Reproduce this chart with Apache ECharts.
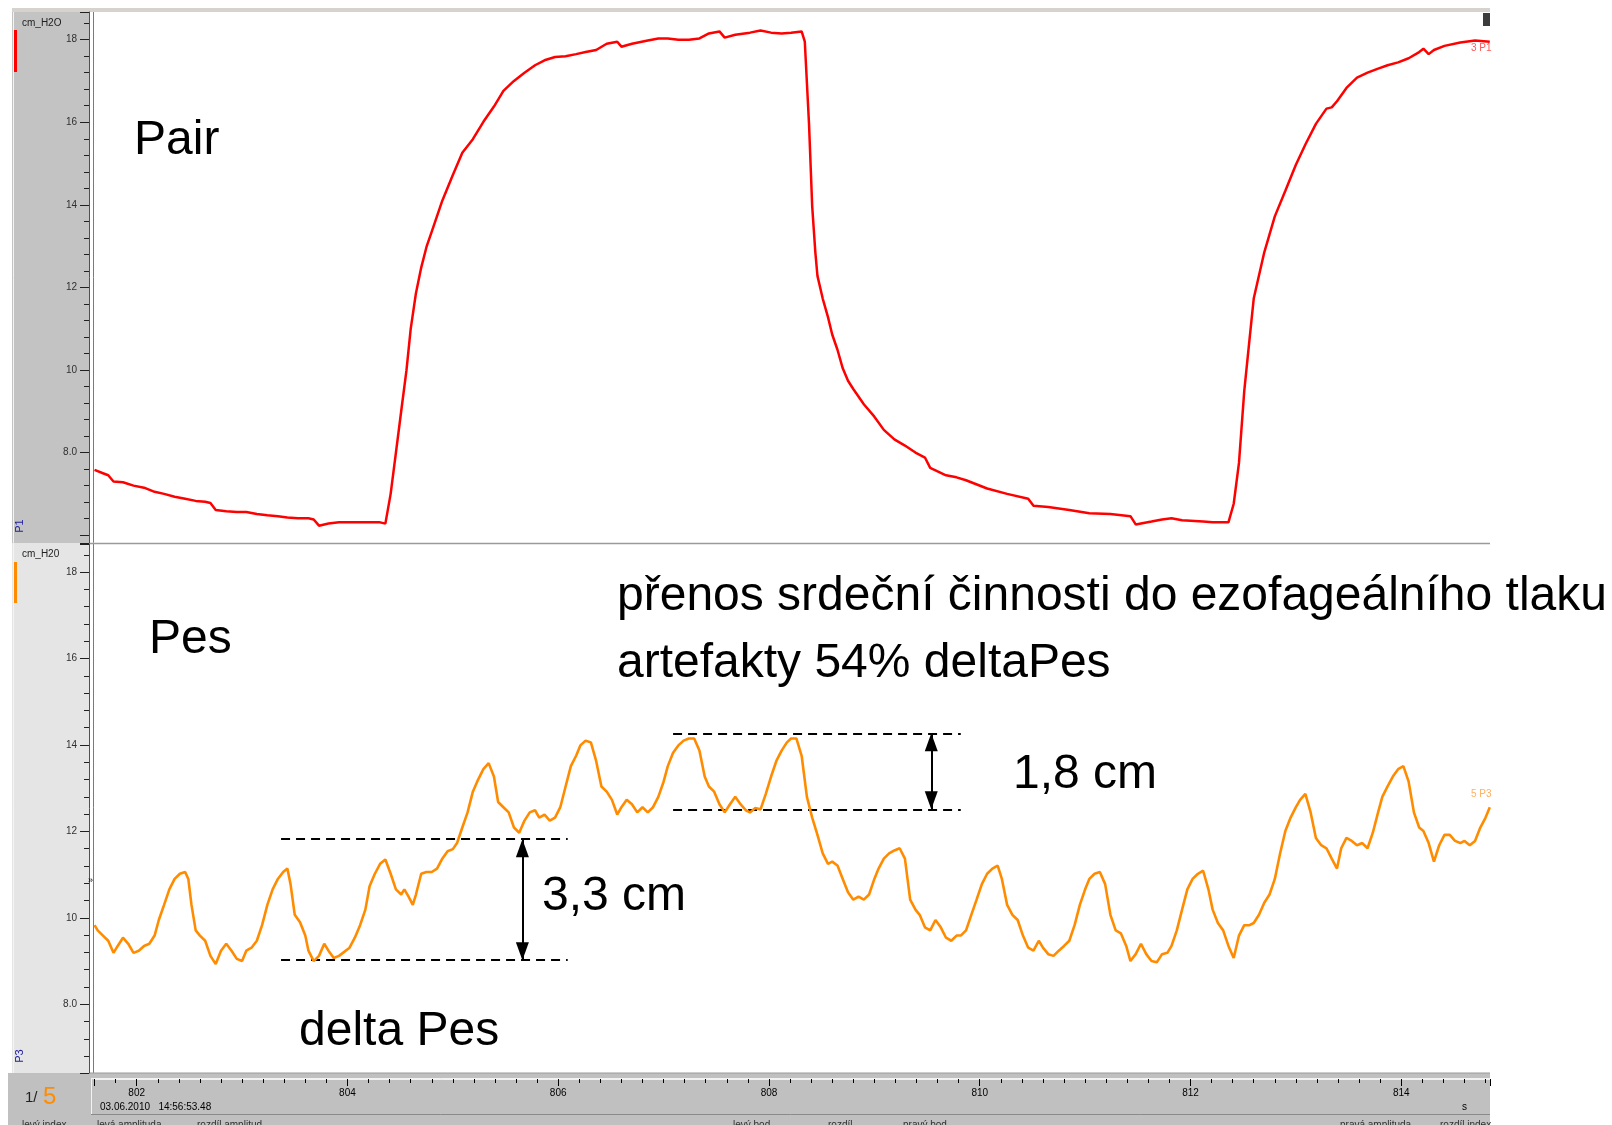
<!DOCTYPE html>
<html><head><meta charset="utf-8">
<script src="https://cdn.jsdelivr.net/npm/echarts@6/dist/echarts.min.js"></script>
<style>html,body{margin:0;padding:0;background:#fff;}#c{width:1612px;height:1125px;}</style>
</head><body><div id="c"></div>
<script>
// ---- data ----
const pairT = [801.60,801.68,801.73,801.78,801.87,801.97,802.07,802.17,802.26,802.36,802.46,802.56,802.65,802.70,802.75,802.85,802.95,803.04,803.14,803.24,803.34,803.43,803.53,803.63,803.68,803.73,803.82,803.92,804.02,804.12,804.21,804.31,804.36,804.41,804.46,804.51,804.56,804.60,804.65,804.70,804.75,804.80,804.90,805.00,805.09,805.19,805.29,805.39,805.48,805.58,805.68,805.78,805.87,805.97,806.07,806.17,806.26,806.36,806.46,806.56,806.60,806.70,806.85,806.95,807.04,807.14,807.24,807.34,807.43,807.53,807.58,807.68,807.82,807.92,808.02,808.12,808.21,808.31,808.34,808.38,808.41,808.44,808.46,808.51,808.56,808.60,808.65,808.70,808.75,808.80,808.90,809.00,809.09,809.19,809.29,809.39,809.48,809.53,809.68,809.78,809.87,810.07,810.26,810.46,810.51,810.65,810.85,811.04,811.24,811.43,811.48,811.63,811.73,811.82,811.92,812.12,812.21,812.36,812.41,812.46,812.51,812.56,812.60,812.70,812.80,812.90,813.00,813.09,813.19,813.29,813.34,813.39,813.48,813.58,813.68,813.78,813.87,813.97,814.07,814.17,814.21,814.26,814.31,814.41,814.56,814.70,814.84];
const pairV = [7.58,7.50,7.45,7.30,7.28,7.20,7.15,7.05,7.00,6.93,6.88,6.83,6.81,6.78,6.61,6.58,6.56,6.56,6.51,6.48,6.46,6.43,6.41,6.41,6.38,6.23,6.28,6.31,6.31,6.31,6.31,6.31,6.28,7.00,8.00,9.00,9.99,10.99,11.86,12.48,12.98,13.35,14.10,14.72,15.26,15.59,16.01,16.38,16.76,17.00,17.20,17.38,17.50,17.58,17.60,17.65,17.70,17.75,17.90,17.95,17.83,17.90,17.98,18.03,18.03,18.00,18.00,18.03,18.15,18.20,18.05,18.12,18.17,18.22,18.17,18.15,18.17,18.20,17.95,15.96,13.97,12.85,12.28,11.73,11.28,10.86,10.49,10.04,9.74,9.54,9.17,8.87,8.55,8.32,8.17,8.00,7.88,7.63,7.45,7.40,7.33,7.13,7.00,6.88,6.71,6.68,6.61,6.53,6.51,6.46,6.26,6.33,6.38,6.41,6.36,6.33,6.31,6.31,6.76,7.75,9.49,10.74,11.73,12.85,13.72,14.34,14.97,15.46,15.96,16.33,16.36,16.51,16.83,17.08,17.20,17.30,17.38,17.45,17.55,17.70,17.78,17.65,17.75,17.85,17.93,17.98,17.95];
const pesT = [801.60,801.63,801.68,801.73,801.78,801.82,801.87,801.92,801.97,802.02,802.07,802.12,802.17,802.21,802.26,802.31,802.36,802.41,802.46,802.49,802.52,802.56,802.60,802.65,802.70,802.75,802.80,802.85,802.90,802.95,803.00,803.04,803.09,803.14,803.19,803.24,803.29,803.34,803.39,803.43,803.46,803.50,803.55,803.60,803.63,803.68,803.73,803.78,803.82,803.87,803.92,804.02,804.07,804.12,804.17,804.21,804.26,804.31,804.36,804.41,804.46,804.51,804.54,804.58,804.62,804.65,804.70,804.75,804.80,804.85,804.90,804.95,805.00,805.04,805.09,805.14,805.19,805.24,805.29,805.34,805.39,805.43,805.48,805.53,805.58,805.63,805.68,805.73,805.78,805.82,805.87,805.92,805.97,806.02,806.07,806.12,806.17,806.21,806.26,806.31,806.36,806.41,806.46,806.51,806.56,806.60,806.65,806.70,806.75,806.80,806.85,806.90,806.95,807.00,807.04,807.09,807.14,807.19,807.24,807.29,807.34,807.39,807.43,807.48,807.53,807.58,807.63,807.68,807.73,807.78,807.82,807.87,807.92,807.97,808.02,808.07,808.12,808.17,808.21,808.26,808.31,808.36,808.41,808.46,808.51,808.56,808.60,808.65,808.70,808.75,808.80,808.85,808.90,808.95,809.00,809.04,809.09,809.14,809.19,809.24,809.29,809.34,809.39,809.43,809.48,809.53,809.58,809.63,809.68,809.73,809.78,809.82,809.87,809.92,809.97,810.02,810.07,810.12,810.17,810.21,810.26,810.31,810.36,810.41,810.46,810.51,810.56,810.60,810.65,810.70,810.75,810.80,810.85,810.90,810.95,811.00,811.04,811.09,811.14,811.19,811.24,811.29,811.34,811.39,811.43,811.48,811.53,811.58,811.63,811.68,811.73,811.78,811.82,811.87,811.92,811.97,812.02,812.07,812.12,812.17,812.21,812.26,812.31,812.36,812.41,812.46,812.51,812.56,812.60,812.65,812.70,812.75,812.80,812.85,812.90,812.95,813.00,813.04,813.09,813.14,813.19,813.24,813.29,813.34,813.39,813.43,813.48,813.53,813.58,813.63,813.68,813.73,813.78,813.82,813.87,813.92,813.97,814.02,814.07,814.12,814.17,814.21,814.26,814.31,814.36,814.41,814.46,814.51,814.56,814.60,814.65,814.70,814.75,814.80,814.84];
const pesV = [9.83,9.71,9.59,9.47,9.19,9.35,9.54,9.40,9.19,9.24,9.35,9.40,9.59,9.95,10.30,10.66,10.90,11.02,11.06,10.90,10.30,9.71,9.59,9.47,9.12,8.93,9.24,9.40,9.24,9.05,9.00,9.24,9.31,9.47,9.83,10.30,10.66,10.90,11.06,11.14,10.78,10.07,9.90,9.59,9.24,9.00,9.12,9.40,9.24,9.07,9.12,9.31,9.54,9.83,10.19,10.73,11.02,11.25,11.35,11.02,10.66,10.54,10.66,10.49,10.30,10.54,11.02,11.06,11.06,11.14,11.37,11.54,11.59,11.73,12.09,12.44,12.92,13.20,13.44,13.58,13.27,12.68,12.56,12.44,12.09,11.97,12.25,12.44,12.49,12.32,12.39,12.25,12.32,12.56,13.04,13.51,13.75,13.99,14.10,14.06,13.63,13.04,12.92,12.73,12.39,12.56,12.73,12.63,12.44,12.56,12.44,12.56,12.80,13.15,13.51,13.82,13.99,14.10,14.15,14.15,13.87,13.27,13.04,12.92,12.63,12.44,12.63,12.80,12.63,12.49,12.44,12.54,12.51,12.87,13.27,13.63,13.87,14.06,14.15,14.15,13.75,12.80,12.32,11.92,11.49,11.25,11.30,11.21,10.90,10.59,10.42,10.49,10.42,10.54,10.90,11.14,11.37,11.49,11.56,11.61,11.37,10.42,10.19,10.07,9.78,9.71,9.95,9.78,9.54,9.47,9.59,9.59,9.71,10.07,10.42,10.78,11.02,11.14,11.21,10.90,10.30,10.07,9.95,9.59,9.31,9.24,9.47,9.31,9.16,9.12,9.24,9.35,9.47,9.83,10.30,10.66,10.90,11.02,11.06,10.78,10.07,9.71,9.64,9.35,9.00,9.16,9.40,9.16,9.00,8.97,9.16,9.19,9.35,9.71,10.19,10.66,10.90,11.02,11.09,10.66,10.19,9.88,9.71,9.35,9.07,9.59,9.83,9.83,9.88,10.07,10.35,10.54,10.90,11.49,12.01,12.32,12.56,12.73,12.87,12.44,11.85,11.68,11.61,11.37,11.14,11.61,11.85,11.78,11.68,11.73,11.61,11.97,12.44,12.80,13.04,13.27,13.44,13.51,13.15,12.44,12.09,12.01,11.73,11.30,11.68,11.92,11.92,11.78,11.73,11.78,11.68,11.78,12.09,12.32,12.56];

const yTickValues = [8, 10, 12, 14, 16, 18];
const yTickLabels = ['8.0', '10', '12', '14', '16', '18'];
const xTickValues = [802, 804, 806, 808, 810, 812, 814];
const xTickLabels = ['802', '804', '806', '808', '810', '812', '814'];

const timeRange = [801.595, 814.842];
const pairRange = [5.81, 18.67];
const pesRange = [6.41, 18.65];

// annotation levels (cm H2O) and time spans
const deltaLevels = [9.02, 11.82];
const deltaSpan = [803.37, 806.09];
const deltaArrowT = 805.66;
const artLevels = [12.51, 14.27];
const artSpan = [807.09, 809.82];
const artArrowT = 809.54;

// ---- chart ----
const FF = '"Liberation Sans", Arial, sans-serif';
function lookup(vals, labels) {
  return function (v) {
    for (let i = 0; i < vals.length; i++) if (Math.abs(vals[i] - v) < 1e-6) return labels[i];
    return '';
  };
}
const yFmt = lookup(yTickValues, yTickLabels);
const xFmt = lookup(xTickValues, xTickLabels);
const pairData = pairT.map((t, i) => [t, pairV[i]]);
const pesData = pesT.map((t, i) => [t, pesV[i]]);

const HEAD = [13, 18];
const arrowHeads = [
  { value: [deltaArrowT, deltaLevels[1]], symbolRotate: 0, symbolOffset: [0, HEAD[1] / 2] },
  { value: [deltaArrowT, deltaLevels[0]], symbolRotate: 180, symbolOffset: [0, -HEAD[1] / 2] },
  { value: [artArrowT, artLevels[1]], symbolRotate: 0, symbolOffset: [0, HEAD[1] / 2] },
  { value: [artArrowT, artLevels[0]], symbolRotate: 180, symbolOffset: [0, -HEAD[1] / 2] }
];

function yAxisDef(grid, range) {
  return {
    type: 'value', gridIndex: grid, min: range[0], max: range[1], splitNumber: 6,
    position: 'left', offset: 5,
    axisLine: { show: true, lineStyle: { color: '#505050', width: 1 } },
    axisTick: { show: true, length: 9, lineStyle: { color: '#202020', width: 1 } },
    minorTick: { show: true, splitNumber: 5, length: 5, lineStyle: { color: '#202020', width: 1 } },
    axisLabel: { formatter: yFmt, color: '#303030', fontSize: 10, fontFamily: FF, margin: 12 },
    splitLine: { show: false }
  };
}

const chart = echarts.init(document.getElementById('c'), null, { renderer: 'canvas' });
const bigText = (txt, x, y) => ({
  type: 'text', x: x, y: y, z: 50,
  style: { text: txt, font: '48px ' + FF, fill: '#000', textAlign: 'left', textVerticalAlign: 'middle', align: 'left', verticalAlign: 'middle' }
});
const smallText = (txt, x, y, color, size, extra) => Object.assign({
  type: 'text', x: x, y: y, z: 50,
  style: { text: txt, font: (size || 10) + 'px ' + FF, fill: color || '#202020', textAlign: 'left', textVerticalAlign: 'middle', align: 'left', verticalAlign: 'middle' }
}, extra || {});

const option = {
  animation: false,
  backgroundColor: '#ffffff',
  grid: [
    { left: 94, top: 12, width: 1396, height: 531, show: false },
    { left: 94, top: 544, width: 1396, height: 529, show: false }
  ],
  xAxis: [
    { type: 'value', gridIndex: 0, min: timeRange[0], max: timeRange[1], show: false },
    {
      type: 'value', gridIndex: 1, min: timeRange[0], max: timeRange[1], splitNumber: 6,
      position: 'bottom', offset: 6,
      axisLine: { show: true, lineStyle: { color: '#f2f2f2', width: 1 } },
      axisTick: { show: true, length: 7, lineStyle: { color: '#000', width: 1 } },
      minorTick: { show: true, splitNumber: 10, length: 4, lineStyle: { color: '#000', width: 1 } },
      axisLabel: { formatter: xFmt, color: '#000', fontSize: 10, fontFamily: FF, margin: 9 },
      splitLine: { show: false }
    }
  ],
  yAxis: [yAxisDef(0, pairRange), yAxisDef(1, pesRange)],
  series: [
    {
      name: 'Pair', type: 'line', xAxisIndex: 0, yAxisIndex: 0, data: pairData,
      showSymbol: false, symbol: 'none', lineStyle: { color: '#ff0000', width: 2.5 }, z: 5
    },
    {
      name: 'Pes', type: 'line', xAxisIndex: 1, yAxisIndex: 1, data: pesData,
      showSymbol: false, symbol: 'none', lineStyle: { color: '#ff8c00', width: 2.6 }, z: 5
    },
    {
      name: 'dashes', type: 'line', xAxisIndex: 1, yAxisIndex: 1, data: [], z: 6,
      markLine: {
        silent: true, animation: false, symbol: ['none', 'none'],
        lineStyle: { color: '#000', width: 2, type: [9, 6] },
        label: { show: false },
        data: [
          [{ coord: [deltaSpan[0], deltaLevels[1]] }, { coord: [deltaSpan[1], deltaLevels[1]] }],
          [{ coord: [deltaSpan[0], deltaLevels[0]] }, { coord: [deltaSpan[1], deltaLevels[0]] }],
          [{ coord: [artSpan[0], artLevels[1]] }, { coord: [artSpan[1], artLevels[1]] }],
          [{ coord: [artSpan[0], artLevels[0]] }, { coord: [artSpan[1], artLevels[0]] }]
        ]
      }
    },
    {
      name: 'shafts', type: 'line', xAxisIndex: 1, yAxisIndex: 1, data: [], z: 7,
      markLine: {
        silent: true, animation: false, symbol: ['none', 'none'],
        lineStyle: { color: '#000', width: 2, type: 'solid' },
        label: { show: false },
        data: [
          [{ coord: [deltaArrowT, deltaLevels[0]] }, { coord: [deltaArrowT, deltaLevels[1]] }],
          [{ coord: [artArrowT, artLevels[0]] }, { coord: [artArrowT, artLevels[1]] }]
        ]
      }
    },
    {
      name: 'heads', type: 'scatter', xAxisIndex: 1, yAxisIndex: 1, z: 8, silent: true,
      symbol: 'triangle', symbolSize: HEAD, itemStyle: { color: '#000', opacity: 1 },
      data: arrowHeads
    }
  ],
  graphic: [
    // frame backgrounds
    { type: 'rect', z: -10, shape: { x: 12, y: 8, width: 1478, height: 4 }, style: { fill: '#d6d3ce' } },
    { type: 'rect', z: -10, shape: { x: 12, y: 12, width: 78, height: 531 }, style: { fill: '#c3c3c3' } },
    { type: 'rect', z: -10, shape: { x: 12, y: 543, width: 78, height: 530 }, style: { fill: '#e5e5e5' } },
    { type: 'line', z: -9, shape: { x1: 13.5, y1: 12, x2: 13.5, y2: 1073 }, style: { stroke: '#f4f4f4', lineWidth: 1 } },
    { type: 'rect', z: -10, shape: { x: 8, y: 1073, width: 1482, height: 52 }, style: { fill: '#c0c0c0' } },
    { type: 'line', z: -9, shape: { x1: 91, y1: 1078.5, x2: 1490, y2: 1078.5 }, style: { stroke: '#f2f2f2', lineWidth: 1 } },
    { type: 'line', z: -9, shape: { x1: 91.5, y1: 1078, x2: 91.5, y2: 1114 }, style: { stroke: '#f2f2f2', lineWidth: 1 } },
    { type: 'line', z: -9, shape: { x1: 91, y1: 1114.5, x2: 1490, y2: 1114.5 }, style: { stroke: '#8a8a8a', lineWidth: 1 } },
    { type: 'line', z: -9, shape: { x1: 93.5, y1: 12, x2: 93.5, y2: 1073 }, style: { stroke: '#7a7a7a', lineWidth: 1 } },
    { type: 'line', z: -9, shape: { x1: 90, y1: 543.5, x2: 1490, y2: 543.5 }, style: { stroke: '#9a9a9a', lineWidth: 1.5 } },
    { type: 'line', z: -9, shape: { x1: 90, y1: 1073, x2: 1490, y2: 1073 }, style: { stroke: '#9a9a9a', lineWidth: 1 } },
    { type: 'rect', z: 20, shape: { x: 1483, y: 13, width: 7, height: 13 }, style: { fill: '#3c3c3c' } },
    // channel indicators
    { type: 'rect', z: 20, shape: { x: 14, y: 30, width: 3, height: 42 }, style: { fill: '#ff0000' } },
    { type: 'rect', z: 20, shape: { x: 14, y: 562, width: 3, height: 41 }, style: { fill: '#ff8c00' } },
    smallText('cm_H2O', 22, 23, '#202020', 10),
    smallText('cm_H20', 22, 554, '#202020', 10),
    smallText('P1', 20, 526, '#2020a0', 11, { rotation: Math.PI / 2, style: { text: 'P1', font: '11px ' + FF, fill: '#2020a0', textAlign: 'center', textVerticalAlign: 'middle', align: 'center', verticalAlign: 'middle' } }),
    smallText('P3', 20, 1056, '#2020a0', 11, { rotation: Math.PI / 2, style: { text: 'P3', font: '11px ' + FF, fill: '#2020a0', textAlign: 'center', textVerticalAlign: 'middle', align: 'center', verticalAlign: 'middle' } }),
    smallText('»', 88, 881, '#000', 9),
    smallText('3 P1', 1471, 48, '#ff5a5a', 10),
    smallText('5 P3', 1471, 794, '#ffb060', 10),
    // bottom bar
    smallText('1/', 25, 1098, '#202020', 15),
    smallText('5', 43, 1097, '#ff8c00', 24),
    smallText('03.06.2010   14:56:53.48', 100, 1107, '#000', 10),
    smallText('s', 1462, 1107, '#000', 10),
    smallText('levý index', 22, 1125, '#303030', 10),
    smallText('levá amplituda', 97, 1125, '#303030', 10),
    smallText('rozdíl amplitud', 197, 1125, '#303030', 10),
    smallText('levý bod', 733, 1125, '#303030', 10),
    smallText('rozdíl', 828, 1125, '#303030', 10),
    smallText('pravý bod', 903, 1125, '#303030', 10),
    smallText('pravá amplituda', 1340, 1125, '#303030', 10),
    smallText('rozdíl index', 1440, 1125, '#303030', 10),
    // annotations
    bigText('Pair', 134, 141),
    bigText('Pes', 149, 640),
    bigText('přenos srdeční činnosti do ezofageálního tlaku', 617, 597),
    bigText('artefakty 54% deltaPes', 617, 664),
    bigText('1,8 cm', 1013, 775),
    bigText('3,3 cm', 542, 897),
    bigText('delta Pes', 299, 1032)
  ]
};
chart.setOption(option);
</script>
</body></html>
